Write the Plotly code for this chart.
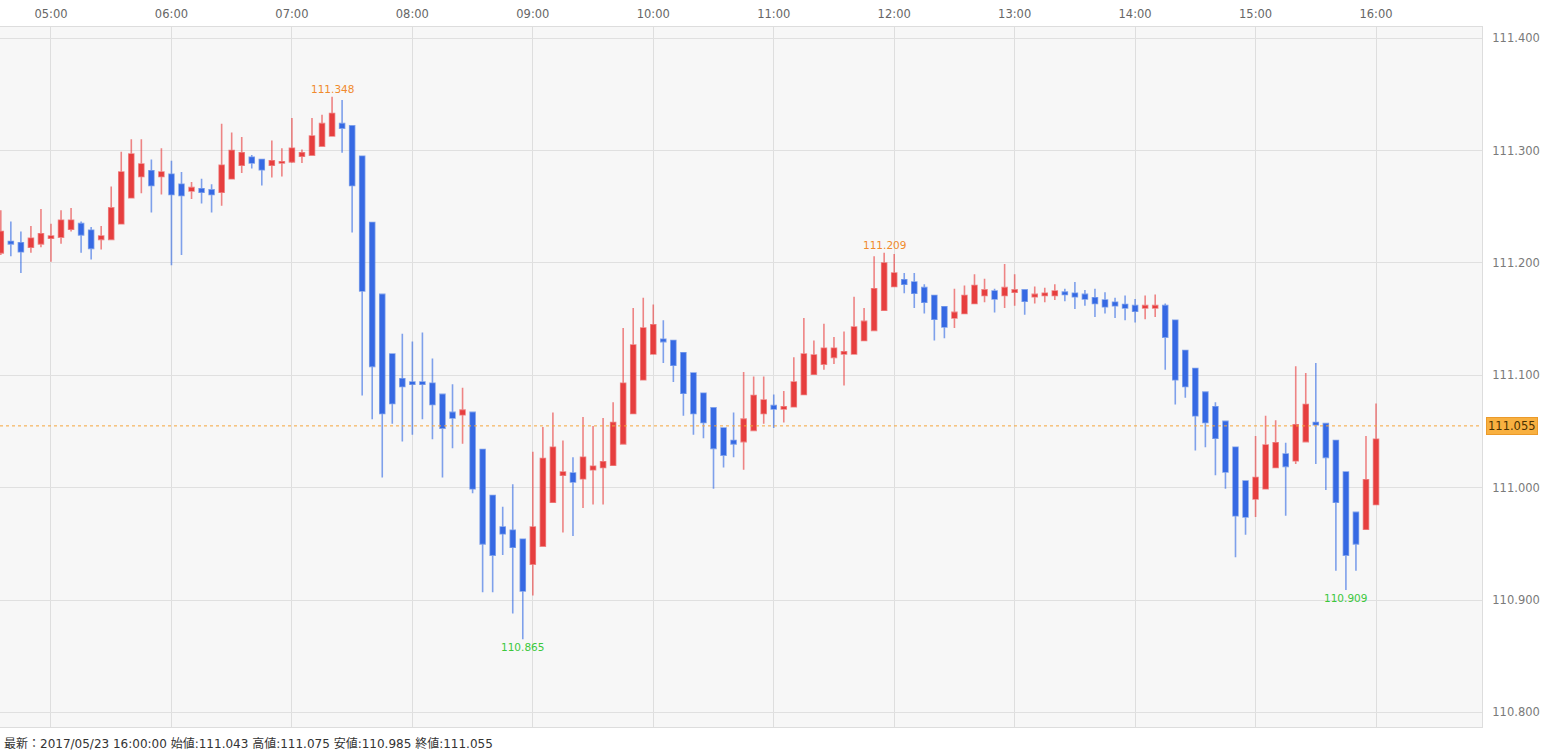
import plotly.graph_objects as go
import pandas as pd

# 5-minute USD/JPY bars, 2017/05/23 04:35 - 16:00
start_time = "2017-05-23 04:35"
opens = [111.209, 111.219, 111.218, 111.214, 111.217, 111.222, 111.223, 111.230, 111.235, 111.229,
         111.221, 111.221, 111.235, 111.258, 111.277, 111.282, 111.277, 111.279, 111.270, 111.264,
         111.266, 111.265, 111.263, 111.275, 111.287, 111.294, 111.292, 111.287, 111.289, 111.290,
         111.295, 111.296, 111.304, 111.313, 111.324, 111.322, 111.295, 111.236, 111.172, 111.119,
         111.097, 111.094, 111.094, 111.093, 111.083, 111.067, 111.065, 111.067, 111.034, 110.993,
         110.965, 110.962, 110.954, 110.932, 110.948, 110.987, 111.011, 111.013, 111.008, 111.016,
         111.018, 111.020, 111.039, 111.066, 111.096, 111.119, 111.132, 111.131, 111.120, 111.102,
         111.084, 111.071, 111.053, 111.042, 111.041, 111.051, 111.066, 111.073, 111.070, 111.072,
         111.083, 111.101, 111.110, 111.116, 111.119, 111.119, 111.131, 111.140, 111.158, 111.179,
         111.185, 111.183, 111.178, 111.171, 111.161, 111.151, 111.155, 111.164, 111.171, 111.175,
         111.171, 111.174, 111.176, 111.170, 111.171, 111.171, 111.174, 111.173, 111.172, 111.169,
         111.167, 111.165, 111.163, 111.162, 111.160, 111.160, 111.162, 111.149, 111.122, 111.106,
         111.085, 111.072, 111.059, 111.036, 111.006, 110.990, 110.999, 111.018, 111.030, 111.024,
         111.041, 111.058, 111.057, 111.042, 111.014, 110.978, 110.963, 110.985]
highs = [111.247, 111.237, 111.228, 111.233, 111.248, 111.235, 111.247, 111.249, 111.237, 111.232,
         111.233, 111.268, 111.299, 111.310, 111.310, 111.292, 111.302, 111.291, 111.281, 111.272,
         111.275, 111.270, 111.324, 111.316, 111.312, 111.296, 111.292, 111.309, 111.302, 111.329,
         111.301, 111.329, 111.332, 111.348, 111.345, 111.322, 111.295, 111.236, 111.172, 111.119,
         111.137, 111.130, 111.138, 111.115, 111.083, 111.092, 111.089, 111.067, 111.034, 110.993,
         110.983, 111.003, 110.954, 111.032, 111.054, 111.067, 111.042, 111.027, 111.063, 111.055,
         111.062, 111.076, 111.142, 111.160, 111.169, 111.163, 111.149, 111.131, 111.120, 111.102,
         111.084, 111.071, 111.053, 111.067, 111.103, 111.099, 111.099, 111.083, 111.086, 111.116,
         111.151, 111.131, 111.146, 111.134, 111.139, 111.170, 111.160, 111.206, 111.209, 111.208,
         111.191, 111.191, 111.181, 111.171, 111.161, 111.177, 111.180, 111.190, 111.186, 111.177,
         111.199, 111.190, 111.176, 111.179, 111.178, 111.181, 111.177, 111.183, 111.176, 111.177,
         111.174, 111.169, 111.171, 111.168, 111.171, 111.172, 111.164, 111.149, 111.122, 111.106,
         111.085, 111.076, 111.059, 111.036, 111.006, 111.046, 111.064, 111.060, 111.040, 111.108,
         111.102, 111.111, 111.057, 111.042, 111.014, 110.978, 111.046, 111.075]
lows = [111.207, 111.206, 111.191, 111.209, 111.214, 111.201, 111.217, 111.228, 111.209, 111.203,
        111.212, 111.221, 111.235, 111.258, 111.262, 111.245, 111.261, 111.198, 111.207, 111.257,
        111.253, 111.245, 111.251, 111.275, 111.280, 111.284, 111.269, 111.276, 111.277, 111.289,
        111.289, 111.296, 111.304, 111.313, 111.298, 111.227, 111.082, 111.061, 111.009, 111.057,
        111.041, 111.047, 111.061, 111.043, 111.009, 111.035, 111.039, 110.995, 110.907, 110.907,
        110.940, 110.888, 110.865, 110.904, 110.948, 110.987, 110.960, 110.957, 110.982, 110.985,
        110.985, 111.020, 111.039, 111.066, 111.096, 111.119, 111.111, 111.094, 111.064, 111.047,
        111.044, 110.999, 111.018, 111.027, 111.016, 111.051, 111.057, 111.053, 111.058, 111.072,
        111.083, 111.101, 111.105, 111.110, 111.091, 111.119, 111.131, 111.140, 111.158, 111.179,
        111.173, 111.160, 111.155, 111.131, 111.133, 111.142, 111.155, 111.164, 111.165, 111.156,
        111.160, 111.162, 111.154, 111.164, 111.165, 111.167, 111.166, 111.159, 111.162, 111.152,
        111.155, 111.151, 111.149, 111.147, 111.150, 111.152, 111.105, 111.074, 111.080, 111.033,
        111.036, 111.011, 110.999, 110.938, 110.958, 110.974, 110.999, 111.018, 110.975, 111.021,
        111.041, 111.021, 110.998, 110.926, 110.909, 110.926, 110.963, 110.985]
closes = [111.228, 111.217, 111.210, 111.222, 111.226, 111.224, 111.238, 111.238, 111.225, 111.213,
          111.224, 111.249, 111.281, 111.297, 111.288, 111.269, 111.281, 111.261, 111.260, 111.267,
          111.263, 111.261, 111.287, 111.300, 111.298, 111.289, 111.283, 111.291, 111.290, 111.302,
          111.298, 111.313, 111.324, 111.333, 111.320, 111.269, 111.175, 111.108, 111.066, 111.075,
          111.090, 111.092, 111.092, 111.074, 111.053, 111.062, 111.069, 110.999, 110.950, 110.940,
          110.959, 110.947, 110.908, 110.965, 111.026, 111.036, 111.014, 111.005, 111.027, 111.019,
          111.023, 111.058, 111.093, 111.127, 111.142, 111.145, 111.130, 111.109, 111.084, 111.066,
          111.058, 111.035, 111.029, 111.039, 111.061, 111.082, 111.078, 111.070, 111.072, 111.094,
          111.119, 111.118, 111.124, 111.124, 111.121, 111.143, 111.148, 111.177, 111.200, 111.191,
          111.181, 111.173, 111.165, 111.150, 111.143, 111.156, 111.171, 111.180, 111.176, 111.168,
          111.178, 111.176, 111.166, 111.172, 111.173, 111.175, 111.172, 111.170, 111.168, 111.164,
          111.161, 111.162, 111.160, 111.157, 111.162, 111.162, 111.134, 111.096, 111.090, 111.064,
          111.058, 111.044, 111.014, 110.975, 110.974, 111.009, 111.038, 111.040, 111.019, 111.056,
          111.074, 111.056, 111.027, 110.987, 110.940, 110.950, 111.007, 111.043]

# marked extremes (bar index, value)
high_marks = [(33, 111.348), (88, 111.209)]
low_marks = [(52, 110.865), (134, 110.909)]
current_price = 111.055
y_ticks = [110.800, 110.900, 111.000, 111.100, 111.200, 111.300, 111.400]
status_text = "最新：2017/05/23 16:00:00 始値:111.043 高値:111.075 安値:110.985 終値:111.055"

times = pd.date_range(start_time, periods=len(opens), freq="5min")

FONT = "DejaVu Sans, Noto Sans CJK JP, sans-serif"

fig = go.Figure(go.Candlestick(
    x=times, open=opens, high=highs, low=lows, close=closes,
    increasing=dict(line=dict(color="rgba(232,62,62,0.62)", width=1.6), fillcolor="#e63f3f"),
    decreasing=dict(line=dict(color="rgba(52,106,228,0.62)", width=1.6), fillcolor="#3769e3"),
    whiskerwidth=0, showlegend=False, hoverinfo="x+y",
))

ann = []
for i, v in high_marks:
    ann.append(dict(x=times[i], y=v, xref="x", yref="y", text=f"{v:.3f}", showarrow=False,
                    yshift=8, font=dict(family=FONT, size=10.5, color="#f08a2c")))
for i, v in low_marks:
    ann.append(dict(x=times[i], y=v, xref="x", yref="y", text=f"{v:.3f}", showarrow=False,
                    yshift=-8, font=dict(family=FONT, size=10.5, color="#3cc83c")))
ann.append(dict(x=1, y=current_price, xref="paper", yref="y", xanchor="left", xshift=4,
                text=f"{current_price:.3f}", showarrow=False, bgcolor="#f8b040",
                bordercolor="#eb9a2a", borderwidth=1, borderpad=1,
                font=dict(family=FONT, size=11.5, color="#4a3000")))
ann.append(dict(x=0, y=0, xref="paper", yref="paper", xanchor="left", yanchor="top",
                yshift=-7, xshift=2, text=status_text, showarrow=False,
                font=dict(family=FONT, size=12, color="#333333")))

fig.update_layout(
    width=1546, height=754,
    margin=dict(l=0, r=64, t=27, b=27),
    paper_bgcolor="white", plot_bgcolor="#f7f7f7",
    boxgap=0.3,
    font=dict(family=FONT, size=11, color="#666666"),
    xaxis=dict(
        type="date", side="top",
        range=["2017-05-23 04:34:36", "2017-05-23 16:52:47"],
        dtick=3600000, tick0="2017-05-23 05:00", tickformat="%H:%M",
        showgrid=True, gridcolor="#dedede", gridwidth=1,
        showline=True, linecolor="#dddddd", mirror=True,
        ticks="", ticklabelstandoff=3,
        tickfont=dict(family=FONT, size=11.5, color="#666666"),
        rangeslider=dict(visible=False), zeroline=False,
    ),
    yaxis=dict(
        side="right", range=[110.787, 111.410],
        tickvals=y_ticks, tickformat=".3f",
        showgrid=True, gridcolor="#e0e0e0", gridwidth=1,
        showline=True, linecolor="#dddddd", mirror=True,
        ticks="", ticklabelstandoff=7,
        tickfont=dict(family=FONT, size=11.5, color="#7a7a7a"),
        zeroline=False,
    ),
    shapes=[dict(type="line", xref="paper", x0=0, x1=1, yref="y", y0=current_price, y1=current_price,
                 line=dict(color="#f5a53c", width=1, dash="3px,3px"))],
    annotations=ann,
)

fig.write_html("out.html", config={"displayModeBar": False},
               post_script="document.body.style.margin='0';document.body.style.overflow='hidden';")
